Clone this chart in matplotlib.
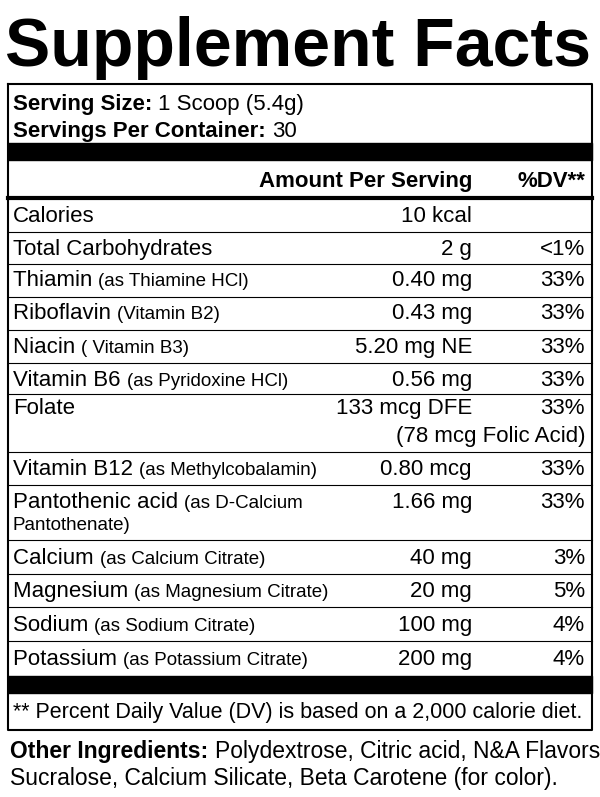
import matplotlib
matplotlib.use("Agg")
import matplotlib.pyplot as plt

plt.rcParams["font.family"] = ["Liberation Sans", "DejaVu Sans"]

# --- label data ---
nutrients = ["Calories", "Total Carbohydrates", "Thiamin", "Riboflavin", "Niacin",
             "Vitamin B6", "Folate", "Vitamin B12", "Pantothenic acid",
             "Calcium", "Magnesium", "Sodium", "Potassium"]
sources = ["", "", "(as Thiamine HCl)", "(Vitamin B2)", "( Vitamin B3)",
           "(as Pyridoxine HCl)", "", "(as Methylcobalamin)", "(as D-Calcium\nPantothenate)",
           "(as Calcium Citrate)", "(as Magnesium Citrate)", "(as Sodium Citrate)",
           "(as Potassium Citrate)"]
amounts = ["10 kcal", "2 g", "0.40 mg", "0.43 mg", "5.20 mg NE", "0.56 mg",
           "133 mcg DFE\n(78 mcg Folic Acid)", "0.80 mcg", "1.66 mg",
           "40 mg", "20 mg", "100 mg", "200 mg"]
daily_values = ["", "<1%", "33%", "33%", "33%", "33%", "33%", "33%", "33%",
                "3%", "5%", "4%", "4%"]
row_y = [216, 249, 280, 313, 347, 380, 408, 469, 502, 558, 591, 625, 659]
row_lines = [232, 264, 297, 330, 363, 394, 452, 485, 540, 574, 607, 641]

MAIN = 16
SMALL = 13.5

fig = plt.figure(figsize=(6, 7.97), dpi=100)
ax = fig.add_axes([0, 0, 1, 1])
ax.set_xlim(0, 600)
ax.set_ylim(797, 0)
ax.axis("off")
renderer = fig.canvas.get_renderer()


def run(x, y, parts):
    """Draw (text, size, weight) pieces one after another on a line."""
    for txt, size, weight in parts:
        t = ax.text(x, y, txt, fontsize=size, fontweight=weight, va="baseline", ha="left")
        x += t.get_window_extent(renderer).width
    return x


ax.text(298, 66, "Supplement Facts", fontsize=49, fontweight="heavy", ha="center", va="baseline")

# box
ax.plot([8, 8, 592, 592, 8], [84, 730, 730, 84, 84], color="black", lw=1.5)

run(13, 110, [("Serving Size: ", 16, "bold"), ("1 Scoop (5.4g)", 16, "normal")])
run(13, 137, [("Servings Per Container: ", 16, "bold"), ("30", 16, "normal")])

ax.fill_between([8, 592], 143, 160, color="black")
ax.text(472, 187, "Amount Per Serving", fontsize=MAIN, fontweight="bold", ha="right", va="baseline")
ax.text(585, 187, "%DV**", fontsize=MAIN, fontweight="bold", ha="right", va="baseline")
ax.plot([8, 592], [198, 198], color="black", lw=3)

for name, src, amt, dv, y in zip(nutrients, sources, amounts, daily_values, row_y):
    base = y + 6
    lines = src.split("\n")
    run(13, base, [(name + (" " if src else ""), MAIN, "normal"), (lines[0], SMALL, "normal")])
    for k, extra in enumerate(lines[1:]):
        ax.text(13, base + 22 * (k + 1), extra, fontsize=SMALL, va="baseline")
    alines = amt.split("\n")
    ax.text(472, base, alines[0], fontsize=MAIN, ha="right", va="baseline")
    for k, extra in enumerate(alines[1:]):
        ax.text(585, base + 28 * (k + 1), extra, fontsize=MAIN, ha="right", va="baseline")
    ax.text(585, base, dv, fontsize=MAIN, ha="right", va="baseline")

for ly in row_lines:
    ax.plot([8, 592], [ly, ly], color="black", lw=0.8)

ax.fill_between([8, 592], 676, 693, color="black")
ax.text(298, 718, "** Percent Daily Value (DV) is based on a 2,000 calorie diet.",
        fontsize=15.5, ha="center", va="baseline")

run(10, 758, [("Other Ingredients: ", 16.5, "bold"),
              ("Polydextrose, Citric acid, N&A Flavors,", 16.5, "normal")])
ax.text(10, 785, "Sucralose, Calcium Silicate, Beta Carotene (for color).", fontsize=16.5, va="baseline")

fig.savefig("out.png", dpi=100)
